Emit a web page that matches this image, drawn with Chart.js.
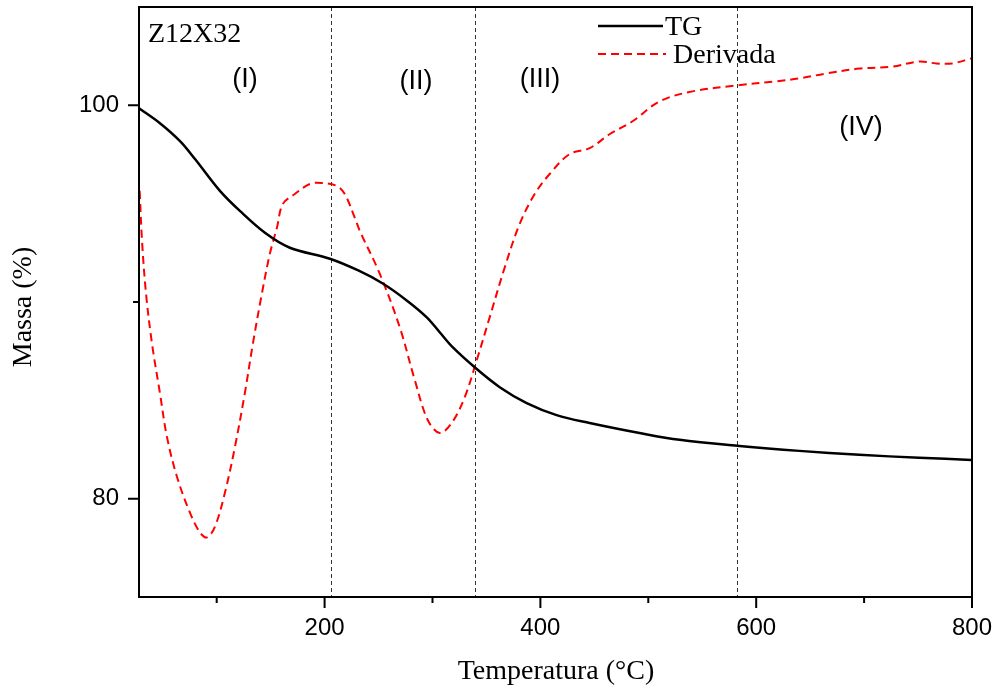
<!DOCTYPE html>
<html>
<head>
<meta charset="utf-8">
<script src="https://cdn.jsdelivr.net/npm/chart.js@4.4.1/dist/chart.umd.min.js"></script>
<style>
  body { margin: 0; background: #fff; }
  canvas { display: block; }
</style>
</head>
<body>
<canvas id="tg-chart" width="1000" height="690"></canvas>
<script>
// TG curve (temperature in °C, mass in %)
const tgTemp = [28, 47.4, 66, 79.9, 103, 121.5, 144.7, 167.8, 204.9, 231.7, 253.9, 276.1, 294.7, 306.7, 318.7, 339.1, 362.3, 387.3, 415, 445.6, 491.9, 529, 584.5, 640, 695.6, 751.1, 799.3];
const tgMass = [99.85, 99.09, 98.18, 97.27, 95.65, 94.63, 93.52, 92.76, 92.2, 91.59, 90.94, 90.08, 89.22, 88.46, 87.7, 86.68, 85.67, 84.86, 84.25, 83.85, 83.34, 82.99, 82.68, 82.43, 82.23, 82.08, 81.97];

// derivative curve (arbitrary units, plotted on the same visual range)
const derTemp = [28.6, 30.8, 34.5, 40, 47.4, 53.9, 63.2, 75.2, 84.5, 91, 98.4, 107.6, 116.9, 126.1, 133.6, 141.9, 149.3, 155.8, 161.3, 172.4, 186.3, 197.4, 211.3, 218.7, 228, 232.6, 251.1, 269.7, 283.6, 295.6, 306.7, 317.8, 329.9, 341, 353, 366.9, 380.8, 394.7, 408.6, 427.1, 445.6, 464.1, 485.4, 510.4, 541, 581.7, 618.7, 640, 665, 695.6, 726.1, 751.1, 766.9, 781.7, 799.3];
const derSignal = [95.65, 93.11, 90.43, 87.9, 85.37, 83.14, 81.11, 79.29, 78.28, 78.03, 78.58, 80.3, 82.63, 85.37, 87.9, 90.43, 92.46, 93.77, 94.99, 95.49, 96.0, 96.05, 95.9, 95.49, 94.28, 93.62, 91.44, 88.71, 86.03, 84.0, 83.34, 83.85, 85.16, 87.04, 89.22, 91.75, 93.97, 95.49, 96.51, 97.52, 97.82, 98.53, 99.19, 100.2, 100.71, 101.01, 101.22, 101.37, 101.62, 101.87, 101.97, 102.23, 102.13, 102.13, 102.38];

// axis ticks
const xMajor = [200, 400, 600, 800];
const xMinor = [100, 300, 500, 700];
const yMajor = [80, 100];
const yMinor = [90];

// stage boundaries (°C) and stage names
const stageBounds = [206, 339, 582];
const stageNames = ['(I)', '(II)', '(III)', '(IV)'];

const serif = '"Liberation Serif", "Times New Roman", serif';
const sans = '"Liberation Sans", Arial, sans-serif';

const decor = {
    id: 'decor',
    beforeDatasetsDraw(chart) {
        const ctx = chart.ctx, a = chart.chartArea, x = chart.scales.x;
        ctx.save();
        ctx.strokeStyle = '#333';
        ctx.lineWidth = 1;
        ctx.setLineDash([4, 3]);
        stageBounds.forEach(t => {
            const px = Math.round(x.getPixelForValue(t)) + 0.5;
            ctx.beginPath();
            ctx.moveTo(px, a.top);
            ctx.lineTo(px, a.bottom);
            ctx.stroke();
        });
        ctx.restore();
    },
    afterDraw(chart) {
        const ctx = chart.ctx, a = chart.chartArea;
        const x = chart.scales.x, y = chart.scales.y;
        ctx.save();

        // frame
        ctx.strokeStyle = '#000';
        ctx.lineWidth = 2;
        ctx.strokeRect(a.left, a.top, a.right - a.left, a.bottom - a.top);

        // ticks
        ctx.beginPath();
        xMajor.forEach(v => { const p = x.getPixelForValue(v); ctx.moveTo(p, a.bottom); ctx.lineTo(p, a.bottom + 11); });
        xMinor.forEach(v => { const p = x.getPixelForValue(v); ctx.moveTo(p, a.bottom); ctx.lineTo(p, a.bottom + 6); });
        yMajor.forEach(v => { const p = y.getPixelForValue(v); ctx.moveTo(a.left, p); ctx.lineTo(a.left - 11, p); });
        yMinor.forEach(v => { const p = y.getPixelForValue(v); ctx.moveTo(a.left, p); ctx.lineTo(a.left - 6, p); });
        ctx.stroke();

        // legend
        ctx.lineWidth = 2.5;
        ctx.beginPath();
        ctx.moveTo(598, 26); ctx.lineTo(663, 26);
        ctx.stroke();
        ctx.strokeStyle = '#ff0000';
        ctx.lineWidth = 2;
        ctx.setLineDash([8, 5]);
        ctx.beginPath();
        ctx.moveTo(598, 54); ctx.lineTo(666, 54);
        ctx.stroke();
        ctx.setLineDash([]);

        ctx.fillStyle = '#000';
        ctx.textBaseline = 'middle';
        ctx.textAlign = 'left';
        ctx.font = '28px ' + serif;
        ctx.fillText('TG', 665, 28);
        ctx.fillText('Derivada', 673, 56);
        ctx.fillText('Z12X32', 148, 35);

        // stage labels
        ctx.font = '27px ' + sans;
        ctx.textAlign = 'center';
        ctx.fillText(stageNames[0], 245, 80);
        ctx.fillText(stageNames[1], 416, 82);
        ctx.fillText(stageNames[2], 540, 80);
        ctx.fillText(stageNames[3], 861, 128);

        // axis titles
        ctx.font = '28px ' + serif;
        ctx.fillText('Temperatura (°C)', 556, 672);
        ctx.translate(24, 307);
        ctx.rotate(-Math.PI / 2);
        ctx.fillText('Massa (%)', 0, 0);
        ctx.restore();
    }
};

function noPad(s) {
    s.paddingTop = 0;
    s.paddingBottom = 0;
    s.paddingLeft = 0;
    s.paddingRight = 0;
}

new Chart(document.getElementById('tg-chart').getContext('2d'), {
    type: 'line',
    data: {
        datasets: [{
            label: 'TG',
            data: tgTemp.map((t, i) => ({ x: t, y: tgMass[i] })),
            borderColor: '#000',
            borderWidth: 2.5,
            pointRadius: 0,
            tension: 0.35,
            fill: false
        }, {
            label: 'Derivada',
            data: derTemp.map((t, i) => ({ x: t, y: derSignal[i] })),
            yAxisID: 'y2',
            borderColor: '#ff0000',
            borderWidth: 2,
            borderDash: [8, 5],
            pointRadius: 0,
            tension: 0.35,
            fill: false
        }]
    },
    options: {
        responsive: false,
        animation: false,
        layout: { padding: { top: 7, right: 28, left: 0, bottom: 0 } },
        plugins: { legend: { display: false }, tooltip: { enabled: false } },
        scales: {
            x: {
                type: 'linear',
                min: 28,
                max: 800,
                border: { display: false },
                grid: { drawOnChartArea: false, tickLength: 11, tickColor: 'transparent' },
                ticks: {
                    maxRotation: 0,
                    autoSkip: false,
                    padding: 6,
                    color: '#000',
                    font: { family: sans, size: 24 }
                },
                afterBuildTicks: s => { s.ticks = xMajor.map(v => ({ value: v })); },
                afterFit: s => { s.height = 93; noPad(s); }
            },
            y: {
                min: 75,
                max: 105,
                border: { display: false },
                grid: { drawOnChartArea: false, tickLength: 11, tickColor: 'transparent' },
                ticks: {
                    autoSkip: false,
                    padding: 9,
                    color: '#000',
                    font: { family: sans, size: 24 }
                },
                afterBuildTicks: s => { s.ticks = yMajor.map(v => ({ value: v })); },
                afterFit: s => { s.width = 139; noPad(s); }
            },
            y2: { display: false, min: 75, max: 105 }
        }
    },
    plugins: [decor]
});
</script>
</body>
</html>
